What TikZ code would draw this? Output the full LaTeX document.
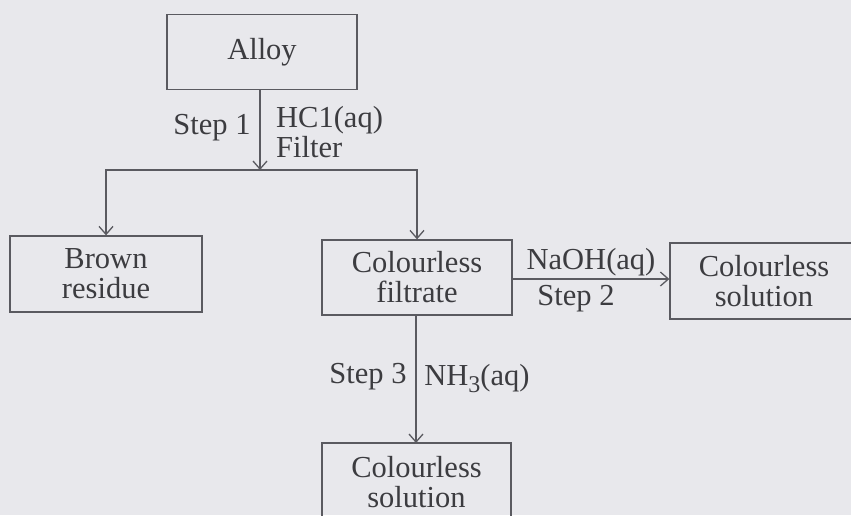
\documentclass[tikz,border=0pt]{standalone}
\usepackage{fontspec}
\setmainfont{Liberation Serif}
\usetikzlibrary{arrows.meta}
\definecolor{bg}{RGB}{232,232,236}
\definecolor{ink}{RGB}{60,60,64}
\definecolor{linec}{RGB}{90,90,96}
\begin{document}
\begin{tikzpicture}[x=1pt,y=-1pt,
  box/.style={draw=linec,line width=1.3pt,minimum width=190pt,minimum height=75pt,inner sep=0pt,align=center,text=ink,font=\fontsize{30.5}{30}\selectfont},
  lbl/.style={text=ink,font=\fontsize{30.5}{30}\selectfont,inner sep=0pt,align=left},
  conn/.style={draw=linec,line width=1.3pt},
  arr/.style={conn,-{Straight Barb[length=8pt,width=14pt,line width=1.3pt]}}]
\fill[bg] (0,0) rectangle (851,515);
\useasboundingbox (0,0) rectangle (851,515);
\begin{scope}
\clip (0,0) rectangle (851,515);
\node[box] (alloy) at (262,52) {Alloy};
\node[box,minimum width=192pt,minimum height=76pt] (brown) at (106,274) {Brown\\residue};
\node[box] (filt) at (417,277.5) {Colourless\\filtrate};
\node[box,minimum width=188pt,minimum height=76pt] (sol1) at (764,281) {Colourless\\solution};
\node[box,minimum width=189pt,minimum height=78pt] (sol2) at (416.5,482) {Colourless\\solution};
\coordinate (j) at (260,170);
\draw[arr] (260,89) -- (j);
\draw[arr] (j) -| (brown.north);
\draw[arr] (j) -| (filt.north);
\draw[arr] (filt.east |- 0,279) -- (sol1.west |- 0,279);
\draw[arr] (416,315) -- (416,443);
\node[lbl] (s1) at (212,128) {Step 1};
\node[lbl,anchor=west] (hcl) at (276,132) {HC1(aq)\\Filter};
\node[lbl] (naoh) at (591,262) {NaOH(aq)};
\node[lbl] (s2) at (576,299) {Step 2};
\node[lbl] (s3) at (368,377) {Step 3};
\node[lbl] (nh3) at (477,379) {NH\raisebox{-7pt}{\fontsize{24}{24}\selectfont 3}(aq)};
\end{scope}
\end{tikzpicture}
\end{document}
